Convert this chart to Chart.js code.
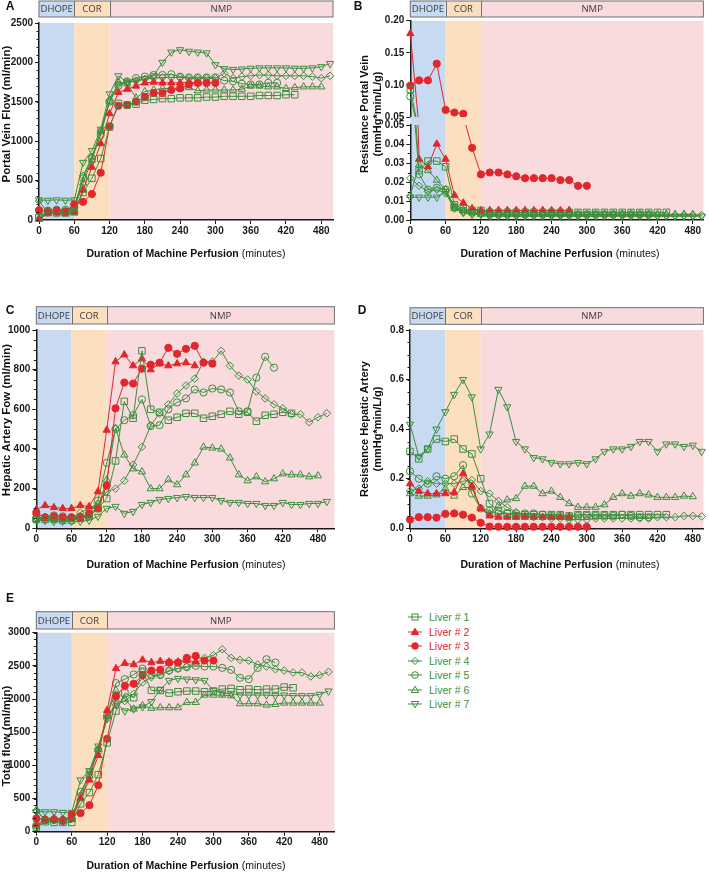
<!DOCTYPE html>
<html>
<head>
<meta charset="utf-8">
<script src="https://cdn.jsdelivr.net/npm/chart.js@4.4.1/dist/chart.umd.min.js"></script>
<style>
  html, body { margin: 0; padding: 0; background: #fff; }
  body { position: relative; width: 709px; height: 872px; overflow: hidden; font-family: "Liberation Sans", Arial, sans-serif; color: #111; }
  canvas { position: absolute; }
  .letter { position: absolute; font-weight: bold; font-size: 12px; transform: translate(-50%, -50%); }
  .ytitle { position: absolute; font-weight: bold; font-size: 11.5px; line-height: 13px; text-align: center; white-space: nowrap; transform: translate(-50%, -50%) rotate(-90deg); }
  .ytitle.two { font-size: 11px; }
  .xtitle { position: absolute; font-weight: bold; font-size: 10.5px; white-space: nowrap; transform: translate(-50%, -50%); }
  .xtitle span { font-weight: normal; }
  #legend { position: absolute; left: 408px; top: 610px; font-size: 10.5px; }
  .row { display: flex; align-items: center; height: 14.5px; white-space: nowrap; }
  .row svg { margin-right: 5px; }
</style>
</head>
<body>
<canvas id="chartA" width="340" height="270" style="left:0;top:0"></canvas>
<canvas id="chartB1" width="354" height="125" style="left:355px;top:0"></canvas>
<canvas id="chartB2" width="354" height="153" style="left:355px;top:117px"></canvas>
<canvas id="chartC" width="340" height="270" style="left:0;top:300px"></canvas>
<canvas id="chartD" width="354" height="270" style="left:355px;top:300px"></canvas>
<canvas id="chartE" width="340" height="282" style="left:0;top:590px"></canvas>

<div class="letter" style="left:10px;top:6px">A</div>
<div class="letter" style="left:358px;top:6px">B</div>
<div class="letter" style="left:10px;top:310px">C</div>
<div class="letter" style="left:362px;top:310px">D</div>
<div class="letter" style="left:10px;top:598px">E</div>

<div class="ytitle" style="left:6px;top:114px">Portal Vein Flow (ml/min)</div>
<div class="ytitle two" style="left:371px;top:114px">Resistance Portal Vein<br>(mmHg*min/L/g)</div>
<div class="ytitle" style="left:6px;top:420px">Hepatic Artery Fow (ml/min)</div>
<div class="ytitle two" style="left:371px;top:429px">Resistance Hepatic Artery<br>(mmHg*min/L/g)</div>
<div class="ytitle" style="left:6px;top:736px">Total flow (ml/min)</div>

<div class="xtitle" style="left:186px;top:253px">Duration of Machine Perfusion <span>(minutes)</span></div>
<div class="xtitle" style="left:560px;top:253px">Duration of Machine Perfusion <span>(minutes)</span></div>
<div class="xtitle" style="left:186px;top:564px">Duration of Machine Perfusion <span>(minutes)</span></div>
<div class="xtitle" style="left:560px;top:564px">Duration of Machine Perfusion <span>(minutes)</span></div>
<div class="xtitle" style="left:186px;top:865px">Duration of Machine Perfusion <span>(minutes)</span></div>

<div id="legend"></div>

<script>
/** ===== Data block ===== */
const minutes = [0, 15, 30, 45, 60, 75, 90, 105, 120, 135, 150, 165, 180, 195, 210, 225, 240, 255, 270, 285, 300,
  315, 330, 345, 360, 375, 390, 405, 420, 435, 450, 465, 480, 495];
const xTickValues = [0, 60, 120, 180, 240, 300, 360, 420, 480];

const liverNames = ['Liver # 1', 'Liver # 2', 'Liver # 3', 'Liver # 4', 'Liver # 5', 'Liver # 6', 'Liver # 7'];

const phaseNames = ['DHOPE', 'COR', 'NMP'];
const phaseStart = [0, 60, 120];
const phaseEnd = [60, 120, null];

// A: portal vein flow (ml/min), one row per liver
const portalVeinFlow = [
  [30, 100, 90, 90, 110, 350, 530, 780, 1180, 1480, 1460, 1470, 1520, 1530, 1540, 1540, 1550, 1550, 1550, 1560, 1560, 1570, 1570, 1570, 1570, 1580, 1580, 1580, 1590, 1590],
  [10, 80, 90, 80, 90, 380, 670, 970, 1350, 1620, 1660, 1700, 1740, 1750, 1740, 1740, 1740, 1750, 1740],
  [125, 110, 120, 110, 200, 230, 330, 600, 1190, 1450, 1460, 1500, 1560, 1610, 1610, 1650, 1670, 1720, 1740, 1740, 1740],
  [240, 90, 100, 110, 150, 560, 800, 1130, 1520, 1720, 1750, 1770, 1790, 1800, 1810, 1810, 1810, 1800, 1800, 1800, 1800, 1860, 1800, 1820, 1830, 1840, 1840, 1830, 1830, 1830, 1830, 1820, 1800, 1830],
  [50, 120, 130, 130, 160, 530, 780, 1080, 1500, 1700, 1760, 1800, 1820, 1840, 1840, 1850, 1820, 1810, 1810, 1810, 1810, 1770, 1760, 1730, 1720, 1720, 1740, 1740],
  [20, 90, 110, 100, 130, 470, 760, 1130, 1500, 1750, 1730, 1550, 1630, 1650, 1670, 1670, 1670, 1680, 1640, 1650, 1650, 1650, 1650, 1660, 1700, 1700, 1690, 1690, 1670, 1680, 1690, 1690, 1690],
  [255, 250, 255, 250, 255, 730, 880, 1150, 1600, 1830, 1750, 1760, 1790, 1830, 2000, 2130, 2160, 2140, 2130, 2120, 1970, 1920, 1910, 1915, 1925, 1930, 1930, 1930, 1930, 1925, 1925, 1930, 1945, 1985]
];

// B: portal vein resistance (mmHg*min/L/g)
const portalVeinResistance = [
  [0.093, 0.026, 0.031, 0.031, 0.028, 0.008, 0.006, 0.005, 0.005, 0.004, 0.004, 0.004, 0.004, 0.004, 0.004, 0.004, 0.004, 0.004, 0.004, 0.004, 0.004, 0.004, 0.004, 0.004, 0.004, 0.004, 0.004, 0.004, 0.004, 0.004],
  [0.18, 0.032, 0.028, 0.040, 0.032, 0.013, 0.009, 0.006, 0.005, 0.005, 0.005, 0.005, 0.005, 0.005, 0.005, 0.005, 0.005, 0.005, 0.005],
  [0.099, 0.107, 0.107, 0.133, 0.061, 0.057, 0.055, 0.038, 0.024, 0.025, 0.025, 0.024, 0.023, 0.022, 0.022, 0.022, 0.022, 0.021, 0.021, 0.018, 0.018],
  [0.022, 0.018, 0.015, 0.016, 0.014, 0.006, 0.004, 0.003, 0.003, 0.0025, 0.0025, 0.0025, 0.0025, 0.0025, 0.0025, 0.0025, 0.0025, 0.0025, 0.0025, 0.0025, 0.0025, 0.0025, 0.0025, 0.0025, 0.0025, 0.0025, 0.0025, 0.0025, 0.0025, 0.0025, 0.0025, 0.0025, 0.0025, 0.0025],
  [0.082, 0.024, 0.016, 0.017, 0.016, 0.007, 0.005, 0.004, 0.004, 0.003, 0.003, 0.003, 0.003, 0.003, 0.003, 0.003, 0.003, 0.003, 0.003, 0.003, 0.003, 0.003, 0.003, 0.003, 0.003, 0.003, 0.003, 0.003],
  [0.013, 0.029, 0.026, 0.021, 0.016, 0.006, 0.005, 0.004, 0.003, 0.003, 0.003, 0.003, 0.003, 0.003, 0.003, 0.003, 0.003, 0.003, 0.003, 0.003, 0.003, 0.003, 0.003, 0.003, 0.003, 0.003, 0.003, 0.003, 0.003, 0.003, 0.003, 0.003, 0.003],
  [0.012, 0.012, 0.012, 0.012, 0.015, 0.007, 0.004, 0.003, 0.003, 0.002, 0.002, 0.002, 0.002, 0.002, 0.002, 0.002, 0.002, 0.002, 0.002, 0.002, 0.002, 0.002, 0.002, 0.002, 0.002, 0.002, 0.002, 0.002, 0.002, 0.002, 0.002, 0.002, 0.002, 0.002]
];

// C: hepatic artery flow (ml/min)
const hepaticArteryFlow = [
  [45, 45, 45, 40, 40, 50, 60, 100, 150, 340, 640, 555, 895, 600, 585, 545, 560, 580, 580, 555, 565, 575, 590, 575, 585, 540, 570, 575, 585, 580],
  [95, 115, 105, 100, 100, 115, 110, 185, 495, 840, 875, 820, 855, 800, 830, 820, 830, 835, 820],
  [75, 55, 60, 55, 55, 55, 75, 100, 215, 605, 735, 730, 805, 825, 835, 910, 880, 905, 920, 835, 830],
  [55, 55, 50, 45, 50, 80, 100, 125, 185, 200, 240, 320, 410, 520, 580, 625, 680, 720, 755, 840, 840, 895, 820, 770, 750, 690, 655, 625, 605, 575, 575, 535, 560, 580],
  [45, 55, 65, 60, 55, 60, 70, 140, 330, 500, 545, 570, 650, 515, 520, 600, 635, 655, 700, 685, 705, 700, 685, 590, 590, 760, 865, 810],
  [45, 50, 50, 45, 45, 55, 65, 100, 245, 505, 370, 300, 285, 200, 200, 245, 220, 270, 330, 410, 405, 400, 355, 270, 240, 260, 235, 250, 275, 270, 270, 260, 265],
  [40, 40, 35, 35, 35, 35, 40, 60, 100, 110, 75, 85, 120, 130, 145, 150, 155, 160, 155, 155, 155, 140, 130, 130, 125, 125, 115, 115, 130, 120, 120, 125, 125, 135]
];

// D: hepatic artery resistance (mmHg*min/L/g)
const hepaticArteryResistance = [
  [0.31, 0.28, 0.32, 0.36, 0.35, 0.36, 0.32, 0.30, 0.20, 0.10, 0.07, 0.06, 0.05, 0.055, 0.055, 0.055, 0.055, 0.055, 0.05, 0.055, 0.055, 0.055, 0.055, 0.055, 0.055, 0.055, 0.055, 0.055, 0.055, 0.055],
  [0.18, 0.15, 0.14, 0.14, 0.14, 0.145, 0.22, 0.17, 0.08, 0.05, 0.045, 0.045, 0.045, 0.045, 0.045, 0.045, 0.045, 0.045, 0.045],
  [0.035, 0.045, 0.045, 0.043, 0.058, 0.06, 0.055, 0.043, 0.022, 0.007, 0.006, 0.006, 0.006, 0.006, 0.006, 0.006, 0.006, 0.006, 0.006, 0.006, 0.006],
  [0.15, 0.16, 0.19, 0.18, 0.18, 0.18, 0.19, 0.195, 0.15, 0.14, 0.11, 0.085, 0.065, 0.05, 0.045, 0.045, 0.04, 0.04, 0.035, 0.035, 0.035, 0.04, 0.04, 0.04, 0.04, 0.04, 0.04, 0.04, 0.045, 0.045, 0.045, 0.05, 0.05, 0.048],
  [0.23, 0.20, 0.18, 0.21, 0.20, 0.21, 0.255, 0.14, 0.08, 0.07, 0.06, 0.06, 0.06, 0.06, 0.06, 0.055, 0.05, 0.05, 0.045, 0.05, 0.05, 0.05, 0.05, 0.05, 0.055, 0.05, 0.045, 0.045],
  [0.14, 0.13, 0.13, 0.135, 0.16, 0.13, 0.165, 0.165, 0.08, 0.06, 0.09, 0.115, 0.12, 0.17, 0.17, 0.14, 0.15, 0.125, 0.10, 0.085, 0.085, 0.085, 0.095, 0.125, 0.14, 0.13, 0.14, 0.135, 0.125, 0.125, 0.125, 0.13, 0.128],
  [0.42, 0.29, 0.32, 0.40, 0.47, 0.54, 0.60, 0.53, 0.32, 0.38, 0.56, 0.49, 0.35, 0.32, 0.285, 0.28, 0.265, 0.26, 0.26, 0.265, 0.26, 0.28, 0.31, 0.32, 0.32, 0.33, 0.35, 0.35, 0.31, 0.34, 0.34, 0.33, 0.335, 0.31]
];

// E: total flow (ml/min)
const totalFlow = [
  [70, 150, 140, 140, 140, 420, 590, 860, 1340, 1820, 2090, 2020, 2420, 2130, 2130, 2090, 2110, 2120, 2120, 2110, 2120, 2150, 2160, 2140, 2150, 2140, 2150, 2150, 2180, 2170],
  [100, 190, 200, 180, 185, 500, 780, 1150, 1830, 2460, 2540, 2520, 2590, 2550, 2570, 2560, 2560, 2580, 2560],
  [200, 180, 180, 160, 260, 280, 400, 700, 1400, 2040, 2200, 2230, 2360, 2430, 2440, 2550, 2550, 2620, 2650, 2580, 2580],
  [320, 190, 200, 180, 200, 550, 900, 1250, 1700, 1910, 1970, 2080, 2250, 2330, 2370, 2420, 2460, 2490, 2540, 2620, 2660, 2750, 2620, 2590, 2580, 2520, 2490, 2450, 2430, 2400, 2400, 2340, 2360, 2410],
  [90, 170, 180, 180, 200, 600, 850, 1220, 1750, 2240, 2300, 2370, 2460, 2360, 2360, 2430, 2460, 2480, 2500, 2490, 2490, 2470, 2440, 2320, 2300, 2470, 2600, 2550],
  [320, 170, 180, 170, 200, 510, 840, 1240, 1750, 2130, 2000, 1850, 1900, 1860, 1870, 1870, 1870, 1950, 1950, 2060, 2060, 2060, 2050, 1930, 1930, 1930, 1910, 1920, 1940, 1940, 1940, 1940, 1940],
  [300, 300, 300, 290, 290, 780, 920, 1290, 1720, 1940, 1820, 1850, 1880, 1960, 2140, 2280, 2310, 2300, 2290, 2280, 2130, 2090, 2080, 2060, 2060, 2060, 2060, 2050, 2060, 2050, 2050, 2050, 2070, 2120]
];

/** ===== Style block ===== */
const GREEN = '#3b8f3e';
const RED = '#e3262b';
const liverColors = [GREEN, RED, RED, GREEN, GREEN, GREEN, GREEN];
const liverFilled = [false, true, true, false, false, false, false];
const liverMarkers = ['rect', 'triangle', 'circle', 'rectRot', 'circle', 'triangle', 'triangle'];
const liverRotation = [0, 0, 0, 0, 0, 0, 180];
const liverRadius = [4.6, 4.2, 3.6, 3.8, 3.6, 4.2, 4.2];
const phaseColors = ['#c7daf1', '#fcdfbf', '#f9dadd'];
const AXIS = '#1a1a1a';
const tickFont = { family: '"Liberation Sans", Arial, sans-serif', size: 10, weight: 'bold' };

/** ===== Plugin block ===== */
const panelPlugin = {
  id: 'panel',
  beforeDraw(chart, args, opts) {
    const { ctx, chartArea: area, scales: { x } } = chart;
    const bandTop = area.top - (opts.bandExtend || 0);
    ctx.save();
    for (let i = 0; i < phaseNames.length; i++) {
      const x0 = x.getPixelForValue(phaseStart[i]);
      const x1 = phaseEnd[i] === null ? area.right : x.getPixelForValue(phaseEnd[i]);
      ctx.fillStyle = phaseColors[i];
      ctx.fillRect(x0, bandTop, x1 - x0, area.bottom - bandTop);
      if (opts.header) {
        const [hTop, hBottom] = opts.header;
        ctx.fillRect(x0, hTop, x1 - x0, hBottom - hTop);
        ctx.fillStyle = '#3a3a3a';
        ctx.font = '9.5px "Open Sans"';
        ctx.textAlign = 'center';
        ctx.textBaseline = 'middle';
        ctx.fillText(phaseNames[i], (x0 + x1) / 2, (hTop + hBottom) / 2 + 0.5);
      }
    }
    if (opts.header) {
      const [hTop, hBottom] = opts.header;
      ctx.strokeStyle = '#707070';
      ctx.lineWidth = 1;
      ctx.strokeRect(area.left, hTop, area.right - area.left, hBottom - hTop);
      for (let i = 1; i < phaseStart.length; i++) {
        const px = Math.round(x.getPixelForValue(phaseStart[i])) + 0.5;
        ctx.beginPath();
        ctx.moveTo(px, hTop);
        ctx.lineTo(px, hBottom);
        ctx.stroke();
      }
    }
    ctx.restore();
  },
  afterDraw(chart, args, opts) {
    if (!opts.minorY) return;
    const { ctx, scales: { y } } = chart;
    ctx.save();
    ctx.strokeStyle = AXIS;
    ctx.lineWidth = 1;
    for (let v = y.min; v <= y.max + 1e-9; v += opts.minorY) {
      const py = Math.round(y.getPixelForValue(v)) + 0.5;
      ctx.beginPath();
      ctx.moveTo(y.right - 2.5, py);
      ctx.lineTo(y.right, py);
      ctx.stroke();
    }
    ctx.restore();
  }
};

/** ===== Chart builders ===== */
function buildDatasets(series, clip) {
  return series.map((values, i) => ({
    label: liverNames[i],
    data: values.map((v, j) => ({ x: minutes[j], y: v })),
    borderColor: liverColors[i],
    backgroundColor: liverColors[i],
    pointBackgroundColor: liverFilled[i] ? liverColors[i] : 'rgba(0,0,0,0)',
    pointBorderColor: liverColors[i],
    pointStyle: liverMarkers[i],
    pointRotation: liverRotation[i],
    pointRadius: liverRadius[i],
    pointBorderWidth: 1,
    borderWidth: 1,
    fill: false,
    tension: 0,
    clip: clip
  }));
}

function xScale(max, height, show = true) {
  return {
    type: 'linear', min: 0, max: max, display: show,
    afterBuildTicks: s => { s.ticks = xTickValues.map(v => ({ value: v })); },
    afterFit: s => { s.height = height; },
    ticks: { font: tickFont, color: AXIS, padding: 1, maxRotation: 0, autoSkip: false },
    grid: { drawOnChartArea: false, color: AXIS, tickLength: 4, lineWidth: 1 },
    border: { color: AXIS, width: 1.5 }
  };
}

function yScale(min, max, step, width, format) {
  return {
    min: min, max: max,
    afterFit: s => { s.width = width; },
    ticks: { stepSize: step, font: tickFont, color: AXIS, padding: 2, callback: format, autoSkip: false },
    grid: { drawOnChartArea: false, color: AXIS, tickLength: 4, lineWidth: 1 },
    border: { color: AXIS, width: 1.5 }
  };
}

function makePanel(id, cfg) {
  return new Chart(document.getElementById(id), {
    type: 'line',
    data: { datasets: buildDatasets(cfg.series, cfg.clip === undefined ? false : cfg.clip) },
    options: {
      responsive: false,
      animation: false,
      layout: { padding: cfg.padding },
      plugins: {
        legend: { display: false },
        tooltip: { enabled: false },
        panel: { header: cfg.header, bandExtend: cfg.bandExtend || 0, minorY: cfg.minorY }
      },
      scales: { x: cfg.x, y: cfg.y }
    },
    plugins: [panelPlugin]
  });
}

const intLabel = v => String(v);

makePanel('chartA', {
  series: portalVeinFlow,
  padding: { top: 23, right: 7, bottom: 0, left: 0 },
  header: [1, 17],
  minorY: 100,
  x: xScale(500, 50),
  y: yScale(0, 2500, 500, 39, intLabel)
});

makePanel('chartB1', {
  series: portalVeinResistance,
  padding: { top: 20.7, right: 0, bottom: 8, left: 0 },
  header: [1, 17],
  clip: { left: 6, right: 6, top: 6, bottom: 0 },
  x: xScale(498, 0, false),
  y: yScale(0.05, 0.2, 0.05, 55.3, v => v.toFixed(2))
});

makePanel('chartB2', {
  series: portalVeinResistance,
  padding: { top: 8, right: 0, bottom: 0, left: 0 },
  bandExtend: 8,
  minorY: 0.005,
  clip: { left: 6, right: 6, top: 0, bottom: 6 },
  x: xScale(498, 50),
  y: yScale(0, 0.05, 0.01, 55.3, v => v.toFixed(2))
});

makePanel('chartC', {
  series: hepaticArteryFlow,
  padding: { top: 30, right: 5.3, bottom: 0, left: 0 },
  header: [6.7, 24],
  minorY: 50,
  x: xScale(508, 41.7),
  y: yScale(0, 1000, 200, 36.3, intLabel)
});

makePanel('chartD', {
  series: hepaticArteryResistance,
  padding: { top: 30, right: 0, bottom: 0, left: 0 },
  header: [7.7, 24.3],
  minorY: 0.05,
  x: xScale(498, 41.7),
  y: yScale(0, 0.8, 0.2, 55, v => v.toFixed(1))
});

makePanel('chartE', {
  series: totalFlow,
  padding: { top: 42.7, right: 5, bottom: 0, left: 0 },
  header: [21.7, 39],
  minorY: 100,
  x: xScale(505, 40.3),
  y: yScale(0, 3000, 500, 36.3, intLabel)
});

/** ===== Legend block ===== */
function markerSvg(i) {
  const c = liverColors[i];
  const fill = liverFilled[i] ? c : 'none';
  let shape = '';
  if (liverMarkers[i] === 'rect') shape = `<rect x="4" y="3" width="6" height="6" fill="${fill}" stroke="${c}"/>`;
  else if (liverMarkers[i] === 'circle') shape = `<circle cx="7" cy="6" r="3.3" fill="${fill}" stroke="${c}"/>`;
  else if (liverMarkers[i] === 'rectRot') shape = `<polygon points="7,2.5 10.5,6 7,9.5 3.5,6" fill="${fill}" stroke="${c}"/>`;
  else if (liverRotation[i] === 180) shape = `<polygon points="3.3,3.5 10.7,3.5 7,9.8" fill="${fill}" stroke="${c}"/>`;
  else shape = `<polygon points="7,2.2 10.7,8.5 3.3,8.5" fill="${fill}" stroke="${c}"/>`;
  return `<svg width="16" height="12" viewBox="0 0 16 12"><line x1="0" y1="6" x2="14" y2="6" stroke="${c}" stroke-width="1"/>${shape}</svg>`;
}

const legend = document.getElementById('legend');
liverNames.forEach((name, i) => {
  const row = document.createElement('div');
  row.className = 'row';
  row.style.color = liverColors[i];
  row.innerHTML = markerSvg(i) + '<span>' + name + '</span>';
  legend.appendChild(row);
});
</script>
</body>
</html>
